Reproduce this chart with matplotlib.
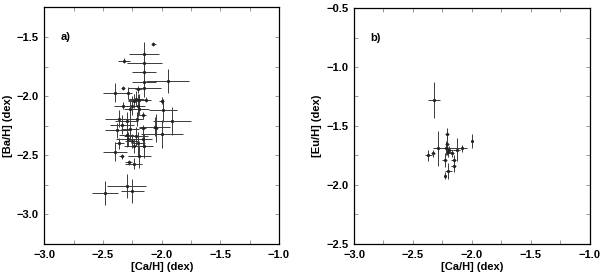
import numpy as np
import matplotlib.pyplot as plt
from matplotlib.ticker import MultipleLocator

plt.rcParams["font.family"] = ["Liberation Sans", "DejaVu Sans"]
plt.rcParams["font.weight"] = "bold"

# panel a: [Ca/H] vs [Ba/H]
ca_a = [-2.07, -2.15, -2.32, -2.15, -2.15, -1.95, -2.15, -2.15, -2.40, -2.33,
        -2.20, -2.29, -2.22, -2.24, -2.19, -2.13, -2.00, -2.25, -2.20, -2.19,
        -2.27, -1.99, -2.16, -2.36, -2.21, -1.91, -2.30, -2.34, -2.06, -2.16,
        -2.27, -2.38, -2.00, -2.30, -2.22, -2.29, -2.16, -2.25, -2.36, -2.20,
        -2.24, -2.15, -2.40, -2.34, -2.19, -2.28, -2.24, -2.30, -2.25, -2.48,
        -2.05, -2.33]
ba_a = [-1.56, -1.64, -1.70, -1.72, -1.80, -1.87, -1.88, -1.93, -1.97, -1.93,
        -1.94, -1.97, -2.02, -2.04, -2.03, -2.03, -2.04, -2.08, -2.08, -2.11,
        -2.11, -2.12, -2.16, -2.19, -2.19, -2.21, -2.21, -2.24, -2.26, -2.27,
        -2.28, -2.29, -2.32, -2.33, -2.34, -2.36, -2.36, -2.38, -2.40, -2.40,
        -2.42, -2.42, -2.47, -2.51, -2.51, -2.56, -2.57, -2.76, -2.80, -2.82,
        -2.27, -2.08]
ca_a_err = [0.02, 0.13, 0.05, 0.15, 0.10, 0.18, 0.10, 0.14, 0.10, 0.02,
            0.03, 0.04, 0.07, 0.05, 0.10, 0.03, 0.02, 0.10, 0.06, 0.08,
            0.05, 0.12, 0.03, 0.12, 0.05, 0.16, 0.10, 0.10, 0.13, 0.03,
            0.08, 0.10, 0.18, 0.06, 0.10, 0.10, 0.08, 0.06, 0.04, 0.06,
            0.08, 0.08, 0.10, 0.02, 0.10, 0.03, 0.07, 0.17, 0.10, 0.11,
            0.02, 0.08]
ba_a_err = [0.02, 0.10, 0.02, 0.08, 0.08, 0.10, 0.08, 0.08, 0.08, 0.02,
            0.03, 0.05, 0.06, 0.06, 0.05, 0.02, 0.03, 0.08, 0.10, 0.05,
            0.08, 0.10, 0.03, 0.07, 0.06, 0.12, 0.08, 0.08, 0.08, 0.03,
            0.10, 0.06, 0.12, 0.10, 0.08, 0.06, 0.07, 0.06, 0.05, 0.10,
            0.06, 0.10, 0.08, 0.02, 0.10, 0.02, 0.05, 0.10, 0.10, 0.10,
            0.12, 0.03]

# panel b: [Ca/H] vs [Eu/H]
ca_b = [-2.32, -2.00, -2.37, -2.33, -2.29, -2.22, -2.21, -2.21, -2.19, -2.13,
        -2.08, -2.17, -2.155, -2.155, -2.23, -2.20, -2.23, -2.20]
eu_b = [-1.28, -1.63, -1.75, -1.73, -1.69, -1.69, -1.565, -1.65, -1.70, -1.70,
        -1.69, -1.73, -1.79, -1.84, -1.79, -1.88, -1.92, -1.72]
ca_b_err = [0.05, 0.01, 0.03, 0.02, 0.03, 0.11, 0.02, 0.02, 0.03, 0.03,
            0.04, 0.02, 0.02, 0.02, 0.02, 0.03, 0.01, 0.02]
eu_b_err = [0.15, 0.06, 0.05, 0.03, 0.15, 0.06, 0.05, 0.10, 0.03, 0.10,
            0.03, 0.03, 0.04, 0.05, 0.06, 0.07, 0.03, 0.04]

fig = plt.figure(figsize=(6, 2.76), dpi=100)
ax1 = fig.add_axes([0.074, 0.116, 0.391, 0.857])
ax2 = fig.add_axes([0.59, 0.116, 0.393, 0.855])

panels = [
    (ax1, ca_a, ba_a, ca_a_err, ba_a_err, (-3.25, -1.25), "[Ba/H] (dex)", "a)", -1.5),
    (ax2, ca_b, eu_b, ca_b_err, eu_b_err, (-2.5, -0.5), "[Eu/H] (dex)", "b)", -0.75),
]
for ax, x, y, xe, ye, ylim, ylabel, tag, ty in panels:
    ax.errorbar(x, y, xerr=xe, yerr=ye, fmt="s", ms=1.1, color="#222222",
                ecolor="#3a3a3a", elinewidth=0.7, capsize=0)
    ax.set_xlim(-3.0, -1.0)
    ax.set_ylim(*ylim)
    ax.xaxis.set_major_locator(MultipleLocator(0.5))
    ax.xaxis.set_minor_locator(MultipleLocator(0.25))
    ax.yaxis.set_major_locator(MultipleLocator(0.5))
    ax.yaxis.set_minor_locator(MultipleLocator(0.25))
    ax.tick_params(which="both", direction="in", top=True, right=True,
                   length=3, width=0.6, color="#888888", labelsize=8, pad=4)
    for lab in ax.get_xticklabels() + ax.get_yticklabels():
        lab.set_fontweight("bold")
    for s in ax.spines.values():
        s.set_linewidth(0.9)
    ax.set_xlabel("[Ca/H] (dex)", fontsize=8, fontweight="bold", labelpad=2)
    ax.set_ylabel(ylabel, fontsize=8, fontweight="bold", labelpad=3)
    ax.text(-2.86, ty, tag, fontsize=8, fontweight="bold", va="center")

fig.savefig("out.png", dpi=100)
